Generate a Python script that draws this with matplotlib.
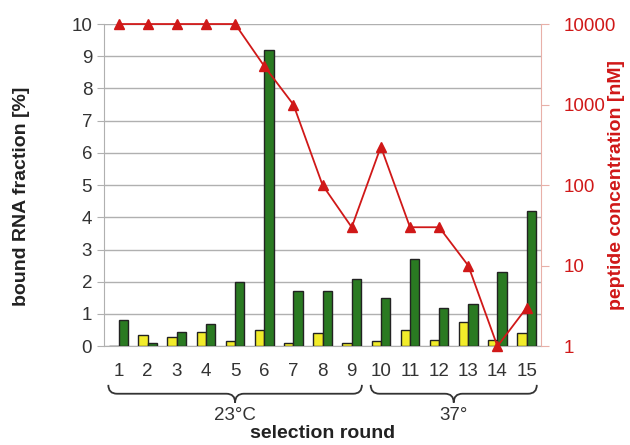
import numpy as np
import matplotlib
matplotlib.use("Agg")
import matplotlib.pyplot as plt
from matplotlib.path import Path
import matplotlib.patches as mpatches
import matplotlib.transforms as mtransforms

# data
rounds = list(range(1, 16))
yellow = [0.0, 0.35, 0.3, 0.45, 0.15, 0.5, 0.1, 0.4, 0.1, 0.15, 0.5, 0.2, 0.75, 0.2, 0.4]
green = [0.8, 0.1, 0.45, 0.7, 2.0, 9.2, 1.7, 1.7, 2.1, 1.5, 2.7, 1.2, 1.3, 2.3, 4.2]
peptide = [10000, 10000, 10000, 10000, 10000, 3000, 1000, 100, 30, 300, 30, 30, 10, 1, 3]

groups = [(1, 9, "23°C"), (10, 15, "37°")]

RED = "#d01818"
GREEN = "#2a7a22"
YELLOW = "#f2ec2a"
GRID = "#b0b0b0"

plt.rcParams["font.family"] = ["Liberation Sans", "DejaVu Sans"]

fig = plt.figure(figsize=(6.3, 4.45), dpi=100)
ax = fig.add_axes([0.165, 0.222, 0.694, 0.724])

x = np.array(rounds)
w = 0.32
ax.bar(x - w / 2, yellow, w, color=YELLOW, edgecolor="#222222", linewidth=1.0, zorder=3)
ax.bar(x + w / 2, green, w, color=GREEN, edgecolor="#222222", linewidth=1.0, zorder=3)

ax.set_xlim(0.5, 15.5)
ax.set_ylim(0, 10)
ax.set_yticks(range(0, 11))
ax.yaxis.grid(True, color=GRID, linewidth=1.0, zorder=0)
ax.set_axisbelow(True)

ax.set_xticks(x)
ax.set_xticklabels([str(r) for r in rounds], fontsize=13.5, color="#333333")
ax.set_xticks(np.arange(0.5, 16, 1), minor=True)
ax.tick_params(axis="x", which="major", length=0, pad=12)
ax.tick_params(axis="x", which="minor", length=5, color=GRID, direction="out")
ax.tick_params(axis="y", labelsize=13.5, length=5, color=GRID, labelcolor="#333333")
for s in ["top", "right"]:
    ax.spines[s].set_visible(False)
ax.spines["left"].set_color(GRID)
ax.spines["bottom"].set_color(GRID)
ax.set_ylabel("bound RNA fraction [%]", fontsize=14, fontweight="bold", color="#222222")
ax.yaxis.set_label_coords(-0.168, 0.465)

ax2 = ax.twinx()
ax2.set_yscale("log")
ax2.set_ylim(1, 10000)
ax2.plot(x, peptide, color=RED, marker="^", markersize=7, linewidth=1.3, zorder=5, clip_on=False)
ax2.set_yticks([1, 10, 100, 1000, 10000])
ax2.set_yticklabels(["1", "10", "100", "1000", "10000"])
ax2.minorticks_off()
ax2.tick_params(axis="y", labelsize=13.5, labelcolor=RED, color="#e8b0a8", length=6, pad=10)
for s in ["top", "left", "bottom"]:
    ax2.spines[s].set_visible(False)
ax2.spines["right"].set_color("#e8b0a8")
ax2.set_ylabel("peptide concentration [nM]", fontsize=14, fontweight="bold", color=RED)
ax2.yaxis.set_label_coords(1.152, 0.5)


def brace(ax, x0, x1, ytop, depth, trans):
    xm = (x0 + x1) / 2
    d = depth
    verts = [
        (x0, ytop),
        (x0, ytop - d * 0.5), (x0 + 0.3, ytop - d * 0.5),
        (xm - 0.3, ytop - d * 0.5),
        (xm, ytop - d * 0.5), (xm, ytop - d),
        (xm, ytop - d * 0.5), (xm + 0.3, ytop - d * 0.5),
        (x1 - 0.3, ytop - d * 0.5),
        (x1, ytop - d * 0.5), (x1, ytop),
    ]
    codes = [Path.MOVETO, Path.CURVE3, Path.CURVE3, Path.LINETO,
             Path.CURVE3, Path.CURVE3, Path.CURVE3, Path.CURVE3,
             Path.LINETO, Path.CURVE3, Path.CURVE3]
    p = mpatches.PathPatch(Path(verts, codes), facecolor="none", edgecolor="#333333",
                           linewidth=1.3, transform=trans, clip_on=False)
    ax.add_patch(p)


trans = mtransforms.blended_transform_factory(ax.transData, ax.transAxes)
for a, b, lab in groups:
    brace(ax, a - 0.35, b + 0.35, -0.12, 0.055, trans)
    ax.text((a + b) / 2, -0.215, lab, transform=trans, ha="center", va="center",
            fontsize=13.5, color="#333333")

ax.text(0.5, -0.27, "selection round", transform=ax.transAxes, ha="center", va="center",
        fontsize=14, fontweight="bold", color="#222222")

fig.savefig("out.png", dpi=100)
